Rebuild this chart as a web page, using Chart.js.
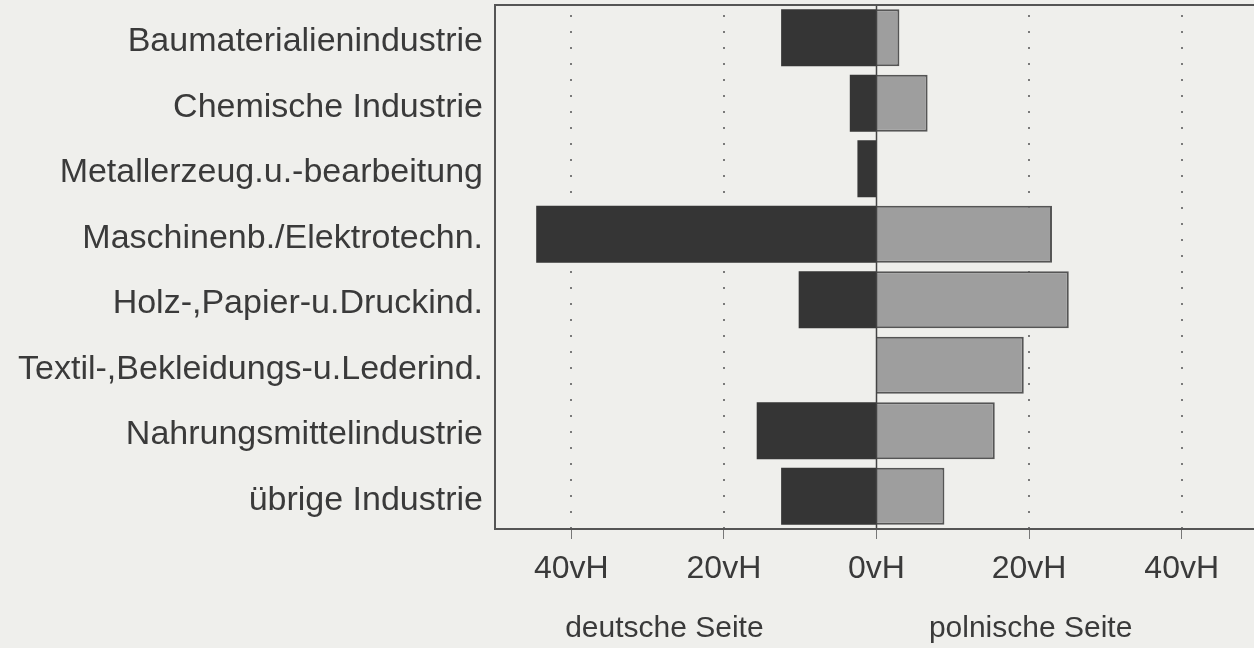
<!DOCTYPE html>
<html>
<head>
<meta charset="utf-8">
<script src="https://cdn.jsdelivr.net/npm/chart.js@4"></script>
<style>
  html, body { margin: 0; padding: 0; background: #efefec; overflow: hidden; }
  #wrap { width: 1260px; height: 648px; }
</style>
</head>
<body>
<div id="wrap"><canvas id="industryChart" width="1260" height="648"></canvas></div>
<script>
// Branchen
const branchen = [
  'Baumaterialienindustrie',
  'Chemische Industrie',
  'Metallerzeug.u.-bearbeitung',
  'Maschinenb./Elektrotechn.',
  'Holz-,Papier-u.Druckind.',
  'Textil-,Bekleidungs-u.Lederind.',
  'Nahrungsmittelindustrie',
  'übrige Industrie'
];

// Anteile in vH
const deutscheSeite = [12.5, 3.5, 2.5, 44.6, 10.2, 0, 15.7, 12.5];
const polnischeSeite = [3.0, 6.7, 0, 23.0, 25.2, 19.3, 15.5, 8.9];

// Achse
const tickWerte = [-40, -20, 0, 20, 40];
const seitenTitel = ['deutsche Seite', 'polnische Seite'];
const seitenPos = [-27.8, 20.2];

const textFarbe = '#3a3a3a';
const schrift = '"Liberation Sans", Arial, sans-serif';

// Rahmen, Punktlinien und Nulllinie
const rahmenPlugin = {
  id: 'rahmen',
  beforeDatasetsDraw(chart) {
    const { ctx, chartArea: a, scales: { x } } = chart;
    ctx.save();
    ctx.strokeStyle = '#7a7a7a';
    ctx.lineWidth = 2;
    ctx.setLineDash([2, 14]);
    tickWerte.forEach(v => {
      if (v === 0) return;
      const px = Math.round(x.getPixelForValue(v));
      ctx.beginPath();
      ctx.moveTo(px, a.top + 10);
      ctx.lineTo(px, a.bottom);
      ctx.stroke();
    });
    ctx.restore();
  },
  afterDatasetsDraw(chart) {
    const { ctx, chartArea: a, scales: { x } } = chart;
    ctx.save();
    const px0 = x.getPixelForValue(0);
    ctx.strokeStyle = '#444';
    ctx.lineWidth = 1.5;
    ctx.beginPath();
    ctx.moveTo(px0, a.top);
    ctx.lineTo(px0, a.bottom);
    ctx.stroke();

    ctx.strokeStyle = '#555';
    ctx.lineWidth = 2;
    ctx.beginPath();
    ctx.moveTo(a.right + 5, a.top);
    ctx.lineTo(a.left, a.top);
    ctx.lineTo(a.left, a.bottom);
    ctx.lineTo(a.right + 5, a.bottom);
    ctx.stroke();
    ctx.restore();
  },
  afterDraw(chart) {
    const { ctx, scales: { x } } = chart;
    ctx.save();
    ctx.font = '30px ' + schrift;
    ctx.fillStyle = textFarbe;
    ctx.textAlign = 'center';
    ctx.textBaseline = 'alphabetic';
    seitenTitel.forEach((t, i) => {
      ctx.fillText(t, x.getPixelForValue(seitenPos[i]), 637);
    });
    ctx.restore();
  }
};

const ctx = document.getElementById('industryChart').getContext('2d');

new Chart(ctx, {
  type: 'bar',
  data: {
    labels: branchen,
    datasets: [
      {
        label: 'deutsche Seite',
        data: deutscheSeite.map(v => -v),
        backgroundColor: '#353535',
        borderWidth: 0,
        categoryPercentage: 1,
        barPercentage: 0.87
      },
      {
        label: 'polnische Seite',
        data: polnischeSeite,
        backgroundColor: '#9e9e9e',
        borderColor: '#555',
        borderWidth: 2,
        categoryPercentage: 1,
        barPercentage: 0.87
      }
    ]
  },
  options: {
    indexAxis: 'y',
    responsive: false,
    animation: false,
    devicePixelRatio: 1,
    layout: { padding: { top: 5, right: 2, left: 0, bottom: 0 } },
    scales: {
      x: {
        type: 'linear',
        min: -50,
        max: 50,
        stacked: true,
        afterBuildTicks: s => { s.ticks = tickWerte.map(v => ({ value: v })); },
        afterFit: s => { s.height = 119; s.paddingLeft = 0; s.paddingRight = 0; },
        grid: {
          drawOnChartArea: false,
          drawTicks: true,
          tickLength: 10,
          tickColor: '#777',
          tickWidth: 1
        },
        border: { display: false },
        ticks: {
          padding: 11,
          color: textFarbe,
          font: { family: schrift, size: 32 },
          callback: v => Math.abs(v) + 'vH'
        }
      },
      y: {
        stacked: true,
        afterFit: s => { s.width = 495; s.paddingTop = 0; s.paddingBottom = 0; },
        grid: { display: false },
        border: { display: false },
        ticks: {
          padding: 4,
          labelOffset: 4,
          color: textFarbe,
          font: { family: schrift, size: 34 }
        }
      }
    },
    plugins: {
      legend: { display: false },
      tooltip: { enabled: false }
    }
  },
  plugins: [rahmenPlugin]
});
</script>
</body>
</html>
